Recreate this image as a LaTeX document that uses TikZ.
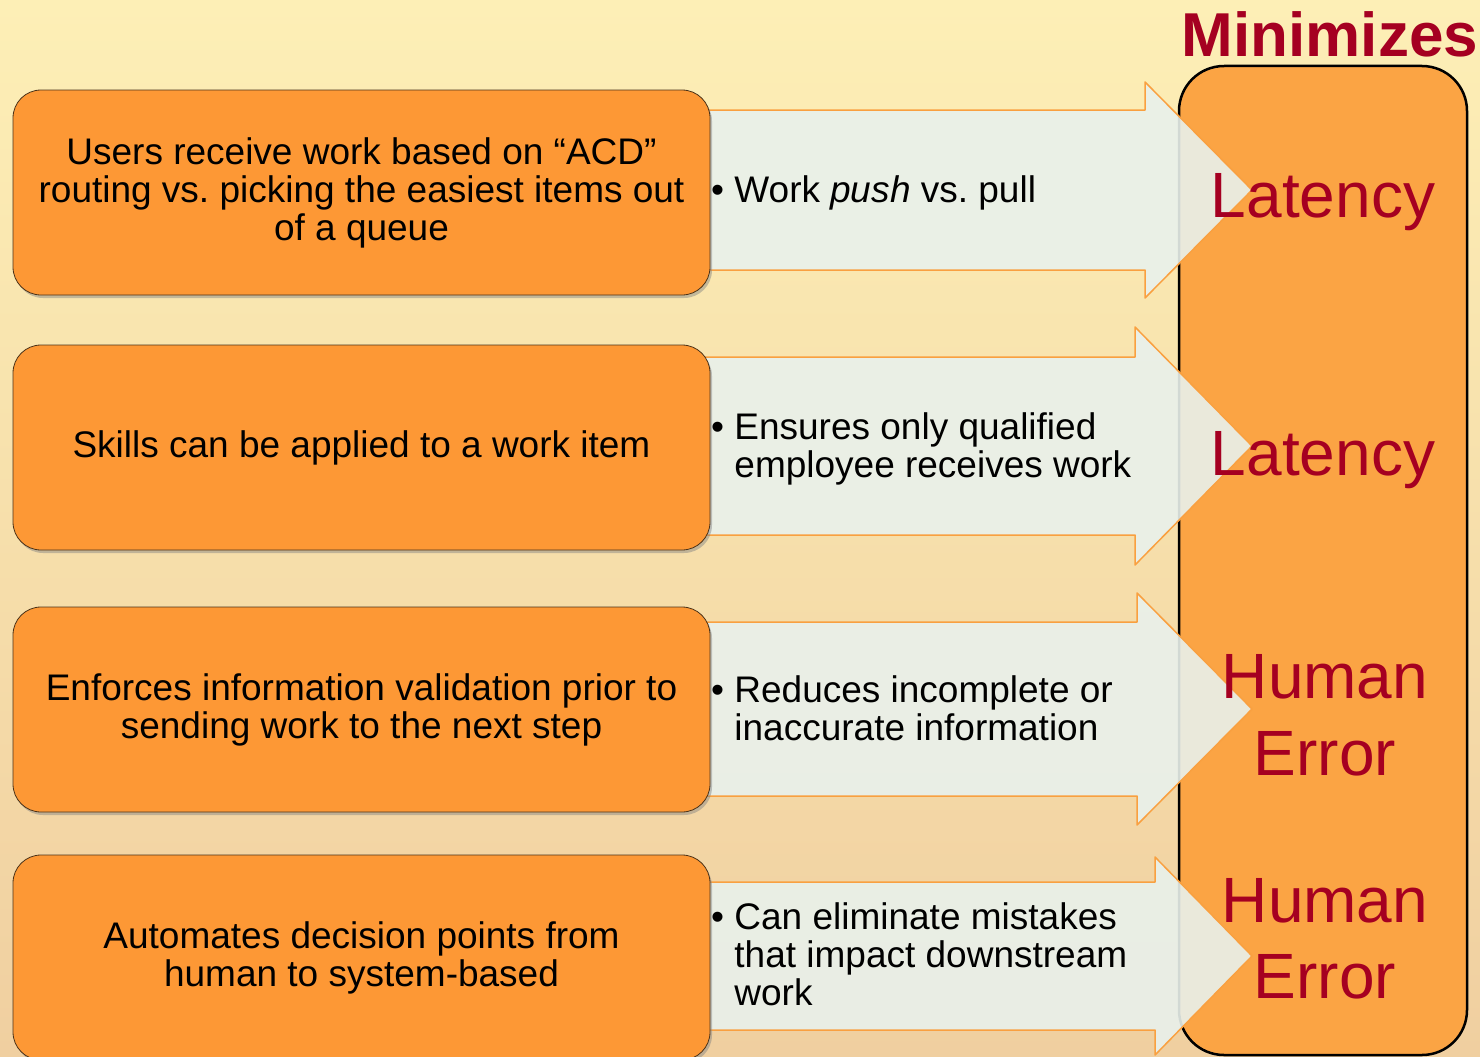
\documentclass[tikz,border=0pt]{standalone}
\usepackage{fontspec}
\setmainfont{Liberation Sans}
\usetikzlibrary{shadows}
\definecolor{bgtop}{HTML}{FDEFB6}
\definecolor{bgmid}{HTML}{FBE2A4}
\definecolor{bgbot}{HTML}{F0CFA0}
\definecolor{boxorange}{HTML}{FD9835}
\definecolor{sideorange}{HTML}{FBA444}
\definecolor{arrowfill}{HTML}{E9F1EC}
\definecolor{arrowline}{HTML}{F9A040}
\definecolor{darkred}{HTML}{A50021}
\newcommand{\pointlist}[1]{\begin{tabular}{@{}l@{ }l@{}}#1\end{tabular}}
\frenchspacing
\begin{document}
\begin{tikzpicture}[x=1pt,y=-1pt,line join=round,
  cause/.style={draw=black!60!brown,line width=.8pt,fill=boxorange,rounded corners=28pt,
    minimum width=697pt,minimum height=205pt,align=center,font=\fontsize{37}{38}\selectfont,
    drop shadow={shadow xshift=2pt,shadow yshift=-3pt,opacity=.45}},
  effect/.style={anchor=west,inner sep=0pt,font=\fontsize{37}{38}\selectfont},
  gain/.style={anchor=base,inner sep=0pt,text=darkred,font=\fontsize{64}{77}\selectfont}]
  \useasboundingbox (0,0) rectangle (1480,1057);
  \clip (0,0) rectangle (1480,1057);
  \shade[top color=bgtop,middle color=bgmid,bottom color=bgbot] (0,0) rectangle (1480,1057);
  % the column on the right
  \node[draw,line width=2.5pt,fill=sideorange,rounded corners=45pt,minimum width=288pt,minimum height=989pt] (minim) at (1323,560.5) {};
  \node[anchor=base,inner sep=0pt,text=darkred,font=\bfseries\fontsize{62}{70}\selectfont] (title) at (1330,57) {Minimizes};
  % arrows: centre / body half height / head half height / neck
  \foreach \yc/\bh/\hh/\nx in {190/80/108/1145,446/89/119/1135,709/87/116/1137,956/74/99/1155}
    \draw[arrowline,line width=1.5pt,fill=arrowfill,fill opacity=.9](700,\yc-\bh)--(\nx,\yc-\bh)--(\nx,\yc-\hh)--(1252,\yc)--(\nx,\yc+\hh)--(\nx,\yc+\bh)--(700,\yc+\bh);
  \node[cause] (c1) at (361.5,192.5) {Users receive work based on “ACD”\\routing vs. picking the easiest items out\\of a queue};
  \node[cause] (c2) at (361.5,447.5) {Skills can be applied to a work item};
  \node[cause] (c3) at (361.5,709.5) {Enforces information validation prior to\\sending work to the next step};
  \node[cause] (c4) at (361.5,957.5) {Automates decision points from\\human to system-based};
  \node[effect] (e1) at (711,195) {\pointlist{•&Work \textit{push} vs. pull}};
  \node[effect] (e2) at (711,451) {\pointlist{•&Ensures only qualified\\&employee receives work}};
  \node[effect] (e3) at (711,714) {\pointlist{•&Reduces incomplete or\\&inaccurate information}};
  \node[effect] (e4) at (711,960) {\pointlist{•&Can eliminate mistakes\\&that impact downstream\\&work}};
  \node[gain] (g1) at (1323,217) {Latency};
  \node[gain] (g2) at (1323,475) {Latency};
  \node[gain] (g3a) at (1325,698) {Human};
  \node[gain] (g3b) at (1325,775) {Error};
  \node[gain] (g4a) at (1325,922) {Human};
  \node[gain] (g4b) at (1325,998) {Error};
\end{tikzpicture}
\end{document}
